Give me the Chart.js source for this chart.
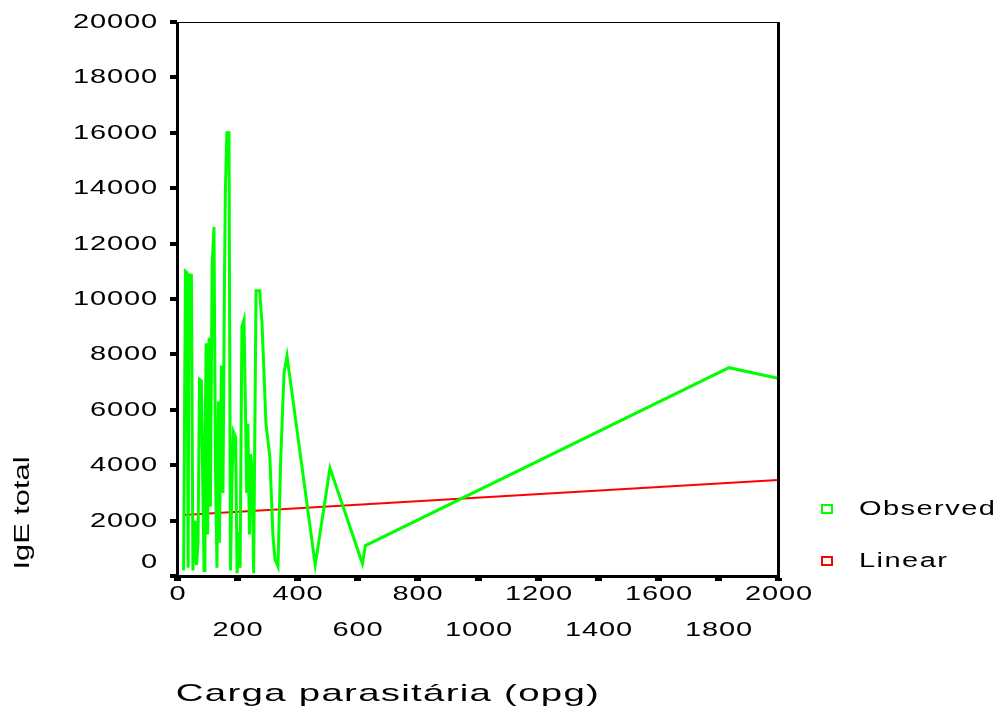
<!DOCTYPE html>
<html>
<head>
<meta charset="utf-8">
<script src="https://cdn.jsdelivr.net/npm/chart.js@4.4.1/dist/chart.umd.min.js"></script>
<style>
body { margin: 0; background: #fff; }
</style>
</head>
<body>
<canvas id="myChart" width="999" height="717"></canvas>
<script>
// carga parasitaria (opg) vs IgE total
const obsX = [22, 28, 33, 37, 40, 48, 53, 60, 65, 70, 75, 81, 85, 90, 93, 97, 102, 107, 111, 117,
    123, 128, 133, 138, 141, 145, 148, 153, 158, 161, 166, 173, 178, 183, 188, 195, 200, 206, 210, 216,
    223, 228, 232, 236, 241, 245, 250, 255, 263, 275, 283, 296, 309, 319, 326, 336, 345, 356, 366, 460,
    509, 617, 627, 1837, 2000];
const obsY = [200, 11000, 10950, 300, 10870, 10850, 200, 2000, 400, 1200, 7100, 7050, 3900, 200, 4500, 8400, 1500, 8600, 2500, 11200,
    12600, 4000, 300, 6300, 1200, 5000, 7600, 3000, 10700, 13900, 16000, 16000, 200, 3500, 5200, 5000, 100, 1600, 300, 9000,
    9250, 5900, 3000, 5500, 1500, 4400, 3800, 100, 10300, 10300, 9100, 5500, 4300, 1500, 600, 350, 4200, 7300, 7950, 400,
    3900, 450, 1100, 7520, 7140];
const linX = [21, 2000];
const linY = [2200, 3470];

const xTicks = [0, 200, 400, 600, 800, 1000, 1200, 1400, 1600, 1800, 2000];
const yTicks = [0, 2000, 4000, 6000, 8000, 10000, 12000, 14000, 16000, 18000, 20000];
const seriesNames = ['Observed', 'Linear'];
const seriesColors = ['#00ff00', '#ff0000'];
const xTitle = 'Carga parasitária (opg)';
const yTitle = 'IgE total';

function toPoints(xs, ys) {
    var pts = [];
    for (var i = 0; i < xs.length; i++) pts.push({x: xs[i], y: ys[i]});
    return pts;
}

// draws wide text like the old SPSS output
function wideText(ctx, txt, x, y, sx, align, font, spacing) {
    ctx.save();
    ctx.translate(x, y);
    ctx.scale(sx, 1);
    ctx.font = font;
    ctx.letterSpacing = spacing || '0px';
    ctx.textAlign = align;
    ctx.textBaseline = 'middle';
    ctx.fillStyle = '#000';
    ctx.fillText(txt, 0, 0);
    ctx.restore();
}

const spssFrame = {
    id: 'spssFrame',
    afterDraw(chart) {
        const ctx = chart.ctx;
        const a = chart.chartArea;
        const xs = chart.scales.x, ys = chart.scales.y;
        const font = '20px "Liberation Sans", Arial, sans-serif';

        ctx.save();
        ctx.fillStyle = '#000';
        // frame
        ctx.fillRect(a.left, a.top, a.right - a.left, 1);
        ctx.fillRect(a.left - 1, a.top, 3, a.bottom - a.top + 2);
        ctx.fillRect(a.right - 1, a.top, 3, a.bottom - a.top + 2);
        ctx.fillRect(a.left - 1, a.bottom - 1, a.right - a.left + 3, 3);

        // y ticks + labels
        yTicks.forEach(function (v) {
            var py = Math.round(ys.getPixelForValue(v));
            ctx.fillRect(a.left - 7, py - 2, 7, 4);
            wideText(ctx, String(v), 158, v === 0 ? py - 14 : py, 1.45, 'right', font, '0.6px');
        });
        // x ticks + labels on two rows
        xTicks.forEach(function (v, i) {
            var px = Math.round(xs.getPixelForValue(v));
            ctx.fillRect(px - 3, a.bottom + 2, 7, 3);
            wideText(ctx, String(v), px + 1, i % 2 === 0 ? 594 : 630, 1.45, 'center', font, '0.6px');
        });

        // axis titles
        wideText(ctx, xTitle, 388, 694, 1.6, 'center', '24px "Liberation Sans", Arial, sans-serif', '0.8px');
        ctx.save();
        ctx.translate(23, 513);
        ctx.rotate(-Math.PI / 2);
        wideText(ctx, yTitle, 0, 0, 1.4, 'center', '22px "Liberation Sans", Arial, sans-serif');
        ctx.restore();

        // legend
        chart.data.datasets.forEach(function (ds, i) {
            var ly = 509 + i * 52;
            ctx.strokeStyle = ds.borderColor;
            ctx.lineWidth = 2;
            ctx.strokeRect(822, ly - 4, 10, 8);
            wideText(ctx, ds.label, 859, ly, 1.45, 'left', font, '1px');
        });
        ctx.restore();
    }
};

const ctx = document.getElementById('myChart');
new Chart(ctx, {
    type: 'line',
    data: {
        datasets: [{
            label: seriesNames[0],
            data: toPoints(obsX, obsY),
            borderColor: seriesColors[0],
            borderWidth: 3,
            pointRadius: 0,
            tension: 0
        }, {
            label: seriesNames[1],
            data: toPoints(linX, linY),
            borderColor: seriesColors[1],
            borderWidth: 2,
            pointRadius: 0,
            tension: 0
        }]
    },
    options: {
        responsive: false,
        animation: false,
        layout: {
            padding: {left: 177, right: 221, top: 22, bottom: 141}
        },
        plugins: {
            legend: {display: false},
            tooltip: {enabled: false}
        },
        scales: {
            x: {type: 'linear', min: 0, max: 2000, display: false},
            y: {type: 'linear', min: 0, max: 20000, display: false}
        }
    },
    plugins: [spssFrame]
});
</script>
</body>
</html>
